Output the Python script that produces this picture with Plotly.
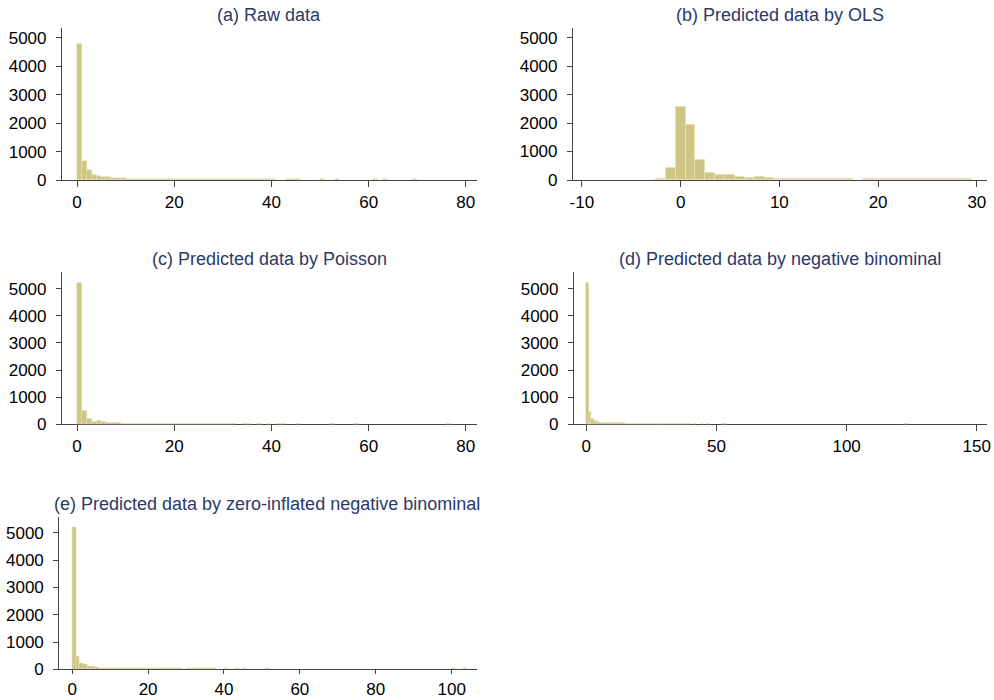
import plotly.graph_objects as go
import numpy as np

# ---------------- data (histogram bins: left edge, count) ----------------
a_left = list(range(0, 41)) + [43, 44, 45, 50, 53, 61, 63, 69]
a_count = [4780, 670, 350, 180, 140, 100, 100, 70, 60, 60, 50, 45, 42, 40, 38, 36, 35, 34,
           33, 32, 32, 31, 31, 30, 30, 30, 29, 29, 29, 28, 28, 28, 27, 27, 27, 26, 26, 26,
           25, 25, 25, 25, 25, 25, 25, 25, 25, 25, 25]

b_left = [-2.5, -1.5, -0.5, 0.5, 1.5, 2.5, 3.5, 4.5, 5.5, 6.5, 7.5, 8.5, 9.5, 10.5, 11.5,
          12.5, 13.5, 14.5, 15.5, 16.5, 18.5, 19.5, 20.5, 21.5, 22.5, 23.5, 24.5, 25.5,
          26.5, 27.5, 28.5]
b_count = [50, 410, 2550, 1920, 690, 234, 164, 164, 117, 58, 117, 58, 45, 45, 40, 40, 38,
           38, 35, 35, 32, 32, 30, 30, 30, 30, 28, 28, 28, 28, 28]

c_left = list(range(0, 33)) + [34, 35, 37, 39, 41, 42, 45, 52, 57, 76]
c_count = [5220, 491, 209, 86, 123, 86, 50, 45, 42, 40, 38, 36, 35, 34, 33, 32, 31, 30, 30,
           29, 29, 28, 28, 27, 27, 26, 26, 25, 25, 25, 25, 24, 24,
           24, 24, 24, 24, 24, 24, 24, 24, 24, 24]

d_left = list(range(0, 40)) + [41, 44, 46, 52, 53, 122, 123]
d_count = [5220, 467, 221, 147, 98, 74, 55, 50, 48, 46, 45, 44, 43, 42, 41, 40, 40, 39, 38,
           38, 37, 36, 36, 35, 35, 34, 34, 33, 33, 32, 32, 31, 31, 30, 30, 30, 29, 29, 29, 28,
           26, 26, 26, 26, 26, 26, 26]

e_left = list(range(0, 29)) + list(range(30, 38)) + [40, 43, 45, 51, 100, 103]
e_count = [5187, 464, 220, 171, 122, 98, 73, 55, 50, 47, 45, 42, 40, 38, 37, 36, 35, 34, 33,
           32, 31, 30, 30, 29, 29, 28, 28, 27, 27,
           26, 26, 25, 25, 25, 24, 24, 24,
           24, 24, 24, 24, 24, 24]

titles = ["(a) Raw data", "(b) Predicted data by OLS", "(c) Predicted data by Poisson",
          "(d) Predicted data by negative binominal",
          "(e) Predicted data by zero-inflated negative binominal"]

y_ticks = [0, 1000, 2000, 3000, 4000, 5000]
x_ticks = [[0, 20, 40, 60, 80], [-10, 0, 10, 20, 30], [0, 20, 40, 60, 80],
           [0, 50, 100, 150], [0, 20, 40, 60, 80, 100]]
x_ticktext = [[str(v) for v in t] for t in x_ticks]  # plain hyphen for negatives

# ---------------- layout geometry (pixels of 994x700 canvas) ----------------
W, H = 994, 700
panels = [
    dict(left=a_left, count=a_count, px=(62, 477), py=(28, 180), xr=(-3.1, 82.3), ytop=5350,
         title_xy=(269, 15)),
    dict(left=b_left, count=b_count, px=(573, 986.7), py=(28, 180), xr=(-10.9, 31), ytop=5340,
         title_xy=(780, 15)),
    dict(left=c_left, count=c_count, px=(62, 477), py=(271.7, 424.3), xr=(-3.1, 82.3), ytop=5625,
         title_xy=(269, 259)),
    dict(left=d_left, count=d_count, px=(574, 986.7), py=(271.7, 424.3), xr=(-4.7, 153.8), ytop=5625,
         title_xy=(780, 259)),
    dict(left=e_left, count=e_count, px=(59.3, 476.7), py=(517.3, 669.3), xr=(-3.4, 106.6), ytop=5568,
         title_xy=(267, 504)),
]

FILL = "rgb(205,198,132)"
EDGE = "rgb(228,224,180)"
FONT = "Liberation Sans, Arial, sans-serif"
AXIS = "#444444"

fig = go.Figure()
annotations = []
for i, p in enumerate(panels):
    n = "" if i == 0 else str(i + 1)
    centers = np.array(p["left"], dtype=float) + 0.5
    fig.add_trace(go.Bar(
        x=centers, y=p["count"], width=1.0,
        marker=dict(color=FILL, line=dict(color=EDGE, width=1 if i == 1 else 0.5)),
        xaxis="x" + n, yaxis="y" + n, showlegend=False, hoverinfo="x+y",
        cliponaxis=False,
    ))
    x0, x1 = p["px"]
    y0, y1 = p["py"]
    fig.layout["xaxis" + n] = dict(
        domain=[x0 / W, x1 / W], range=list(p["xr"]), anchor="y" + n,
        showline=True, linecolor=AXIS, linewidth=1.2, ticks="outside",
        ticklen=4 if i == 4 else 6, layer="below traces",
        tickcolor=AXIS, tickwidth=1.2, tickvals=x_ticks[i], ticktext=x_ticktext[i],
        showgrid=False, zeroline=False,
        tickfont=dict(family=FONT, size=17, color="black"), fixedrange=True,
    )
    fig.layout["yaxis" + n] = dict(
        domain=[1 - y1 / H, 1 - y0 / H], range=[0, p["ytop"]], anchor="x" + n,
        showline=True, linecolor=AXIS, linewidth=1.2, ticks="outside", ticklen=5,
        tickcolor=AXIS, tickwidth=1.2, tickvals=y_ticks, showgrid=False, zeroline=False,
        tickfont=dict(family=FONT, size=17, color="black"), fixedrange=True,
        ticklabelstandoff=6,
    )
    tx, ty = p["title_xy"]
    annotations.append(dict(
        text=titles[i], x=tx / W, y=1 - ty / H, xref="paper", yref="paper",
        xanchor="center", yanchor="middle", showarrow=False,
        font=dict(family=FONT, size=18, color="#2b3a67"),
    ))

fig.update_layout(
    width=W, height=H, margin=dict(l=0, r=0, t=0, b=0),
    paper_bgcolor="white", plot_bgcolor="white",
    bargap=0, annotations=annotations, template="none",
)

fig.write_html("out.html", config={"displayModeBar": False},
               post_script="document.body.style.margin='0px';")
